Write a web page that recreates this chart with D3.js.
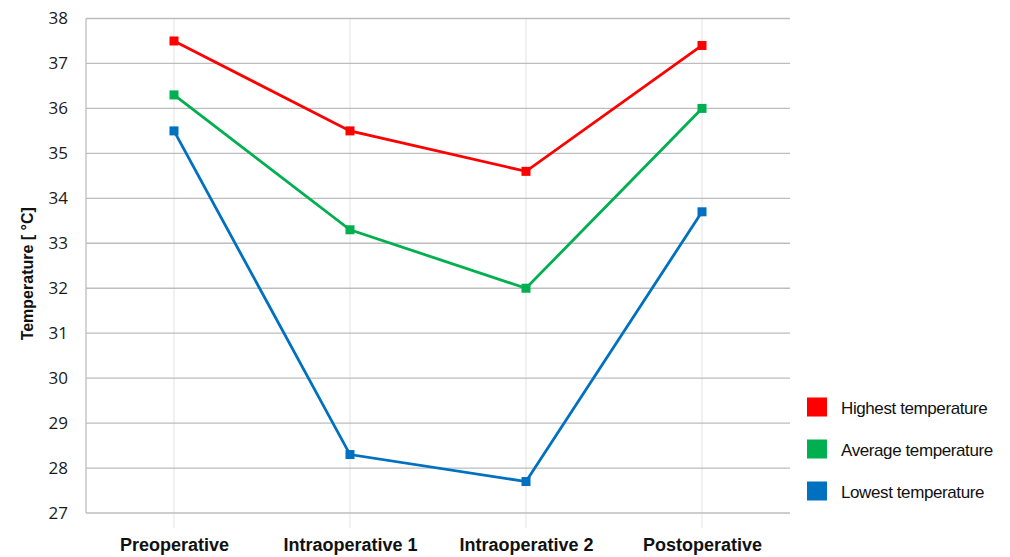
<!DOCTYPE html>
<html>
<head>
<meta charset="utf-8">
<script src="https://cdn.jsdelivr.net/npm/d3@7"></script>
<style>
  body { margin: 0; background: #fff; }
  text { font-family: "Liberation Sans", Arial, sans-serif; }
</style>
</head>
<body>
<div id="chart"></div>
<script>
const categories = ["Preoperative", "Intraoperative 1", "Intraoperative 2", "Postoperative"];
const highest = [37.5, 35.5, 34.6, 37.4];
const average = [36.3, 33.3, 32.0, 36.0];
const lowest = [35.5, 28.3, 27.7, 33.7];
const yTicks = [27, 28, 29, 30, 31, 32, 33, 34, 35, 36, 37, 38];
const seriesNames = ["Highest temperature", "Average temperature", "Lowest temperature"];
const seriesColors = ["#ff0000", "#00b050", "#0070c0"];

const series = [highest, average, lowest].map((values, i) => ({
  name: seriesNames[i],
  color: seriesColors[i],
  values
}));

const margin = { top: 18.5, right: 220, bottom: 44, left: 86 };
const width = 1010 - margin.left - margin.right;
const height = 557 - margin.top - margin.bottom;

const svg = d3.select("#chart")
  .append("svg")
  .attr("width", 1010)
  .attr("height", 557)
  .append("g")
  .attr("transform", `translate(${margin.left},${margin.top})`);

const xScale = d3.scalePoint().domain(categories).range([0, width]).padding(0.5);
const yScale = d3.scaleLinear().domain([27, 38]).range([height, 0]);

// vertical faint lines at categories
svg.append("g")
  .selectAll("line")
  .data(categories)
  .join("line")
  .attr("x1", d => xScale(d))
  .attr("x2", d => xScale(d))
  .attr("y1", 0)
  .attr("y2", height + 15)
  .attr("stroke", "#ececec")
  .attr("stroke-width", 1.5);

// horizontal grid
svg.append("g")
  .selectAll("line")
  .data(yTicks)
  .join("line")
  .attr("x1", 0)
  .attr("x2", width)
  .attr("y1", d => yScale(d))
  .attr("y2", d => yScale(d))
  .attr("stroke", "#bdbdbd")
  .attr("stroke-width", 1.3);

svg.append("line")
  .attr("x1", 0).attr("x2", 0)
  .attr("y1", 0).attr("y2", height)
  .attr("stroke", "#bdbdbd")
  .attr("stroke-width", 1.3);

const yAxis = svg.append("g")
  .call(d3.axisLeft(yScale).tickValues(yTicks).tickSize(0).tickPadding(18).tickFormat(d3.format("d")));
yAxis.select(".domain").remove();
yAxis.selectAll("text")
  .attr("font-size", 17)
  .attr("fill", "#1a1a1a")
  .style("font-family", "'Open Sans', sans-serif");

const xAxis = svg.append("g")
  .attr("transform", `translate(0,${height})`)
  .call(d3.axisBottom(xScale).tickSize(0).tickPadding(25));
xAxis.select(".domain").remove();
xAxis.selectAll("text")
  .attr("font-size", 18)
  .attr("font-weight", "bold")
  .attr("fill", "#111");

svg.append("text")
  .attr("transform", `translate(${-53},${height / 2 + 8}) rotate(-90)`)
  .attr("text-anchor", "middle")
  .attr("font-size", 16)
  .attr("font-weight", "bold")
  .attr("fill", "#111")
  .text("Temperature [ °C]");

const line = d3.line()
  .x((d, i) => xScale(categories[i]))
  .y(d => yScale(d));

series.forEach(s => {
  svg.append("path")
    .datum(s.values)
    .attr("fill", "none")
    .attr("stroke", s.color)
    .attr("stroke-width", 2.8)
    .attr("d", line);

  svg.append("g")
    .selectAll("rect")
    .data(s.values)
    .join("rect")
    .attr("x", (d, i) => xScale(categories[i]) - 4.5)
    .attr("y", d => yScale(d) - 4.5)
    .attr("width", 9)
    .attr("height", 9)
    .attr("fill", s.color);
});

const legend = svg.append("g")
  .attr("transform", `translate(${width + 17},${379})`);

series.forEach((s, i) => {
  const g = legend.append("g").attr("transform", `translate(0,${i * 42})`);
  g.append("rect")
    .attr("width", 20)
    .attr("height", 19)
    .attr("fill", s.color);
  g.append("text")
    .attr("x", 34)
    .attr("y", 16)
    .attr("font-size", 17)
    .attr("fill", "#111")
    .style("letter-spacing", "-0.4px")
    .text(s.name);
});
</script>
</body>
</html>
